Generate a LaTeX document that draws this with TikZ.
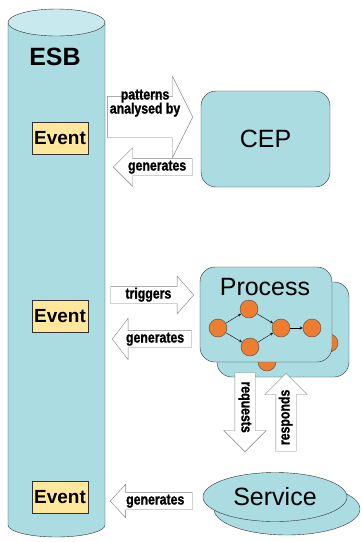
\documentclass[tikz,border=0pt]{standalone}
\usepackage{fontspec}
\setmainfont{Liberation Sans}
\newfontfamily\arrowfont{Liberation Sans}[FakeStretch=0.82, BoldFeatures={FakeBold=1.2}]
\usetikzlibrary{shapes.arrows, shapes.geometric}
\definecolor{esbteal}{RGB}{170,220,225}
\definecolor{esbtop}{RGB}{200,234,238}
\definecolor{eventyellow}{RGB}{255,231,155}
\definecolor{taskorange}{RGB}{237,125,49}
\tikzset{
  every node/.append style={inner sep=0pt},
  bigtext/.style={font=\fontsize{25}{26}\selectfont},
  event/.style={draw=black!80, fill=eventyellow, minimum width=56, minimum height=32, font=\fontsize{19}{20}\selectfont\bfseries},
  engine/.style={draw=black!80, fill=esbteal, rounded corners=15pt},
  task/.style={circle, draw=black!70, fill=taskorange, minimum size=18},
  flow/.style={single arrow, draw=gray, fill=white, anchor=tip, single arrow head indent=0pt,
    font=\arrowfont\bfseries\fontsize{15}{14}\selectfont, text height=10pt, text depth=3pt,
    inner xsep=2pt, inner ysep=2pt},
}

\begin{document}
\begin{tikzpicture}[x=1pt, y=-1pt, >=stealth]
  \useasboundingbox (0,0) rectangle (362,542);
  % the bus
  \draw[draw=black!80, fill=esbteal] (8,22.5) -- (8,525) arc[start angle=180, end angle=0, x radius=48.5, y radius=12] -- (105,22.5) -- cycle;
  \draw[draw=black!80, fill=esbtop] (56.5,22.5) ellipse [x radius=48.5, y radius=13.5];
  \node[font=\fontsize{25}{26}\selectfont\bfseries] (esb) at (55,57) {ESB};
  \node[event] (ev1) at (60,138) {Event};
  \node[event] (ev2) at (60,316.5) {Event};
  \node[event] (ev3) at (60,497.5) {Event};

  \node[engine, bigtext, minimum width=129, minimum height=96] (cep) at (265.5,139) {CEP};

  % process, two copies
  \foreach \layer/\dx/\dy in {back/17/15, front/0/0} {
    \begin{scope}[shift={(\dx,\dy)}]
      \node[engine, minimum width=132, minimum height=95] (\layer) at (266,314.5) {};
      \node[task] (\layer1) at (218,328) {};
      \node[task] (\layer2) at (249,309) {};
      \node[task] (\layer3) at (250,347) {};
      \node[task] (\layer4) at (281,328) {};
      \node[task] (\layer5) at (312,328) {};
      \draw[->] (\layer1) -- (\layer2);
      \draw[->] (\layer1) -- (\layer3);
      \draw[->] (\layer2) -- (\layer4);
      \draw[->] (\layer3) -- (\layer4);
      \draw[->] (\layer4) -- (\layer5);
    \end{scope}
  }
  \node[bigtext] (proctitle) at (265,287) {Process};

  \node[ellipse, draw=black!80, fill=esbteal, minimum width=146, minimum height=52] (svcback) at (287,509) {};
  \node[ellipse, draw=black!80, fill=esbteal, minimum width=144, minimum height=49, bigtext] (svc) at (275,497) {Service};

  % block arrows
  \node[flow, align=center, text depth=17pt, inner ysep=7pt, minimum height=80,
    single arrow head extend=20pt, single arrow tip angle=127] (analysed) at (193,117) {patterns\\analysed by};
  \node[flow, shape border rotate=180, minimum height=79, single arrow head extend=10.5pt] (gen1) at (113,167) {generates};
  \node[flow, minimum height=83, single arrow head extend=10pt, single arrow tip angle=97] (triggers) at (194,295) {triggers};
  \node[flow, shape border rotate=180, minimum height=79, single arrow head extend=12pt, single arrow tip angle=105] (gen2) at (112,339) {generates};
  \node[flow, shape border rotate=180, minimum height=82, single arrow head extend=8pt, single arrow tip angle=95] (gen3) at (110,501) {generates};
  \node[flow, rotate=-90, inner ysep=3.5pt, minimum height=79, single arrow head extend=11pt] (requests) at (245,452) {requests};
  \node[flow, rotate=90, inner ysep=3.5pt, minimum height=78, single arrow head extend=11pt] (responds) at (286,373) {responds};
\end{tikzpicture}
\end{document}
